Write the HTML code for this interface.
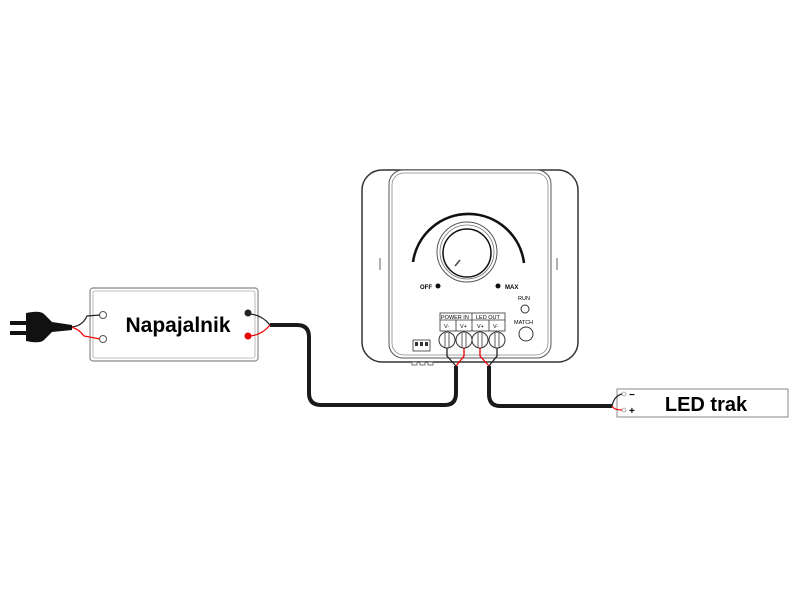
<!DOCTYPE html>
<html><head><meta charset="utf-8"><style>body{margin:0;background:#fff}svg{display:block}</style></head><body>
<svg width="800" height="600" viewBox="0 0 800 600" xmlns="http://www.w3.org/2000/svg" font-family="Liberation Sans, sans-serif">
<rect width="800" height="600" fill="#fff"/>
<rect x="362" y="170" width="216" height="192" rx="20" fill="#fff" stroke="#333" stroke-width="1.5"/>
<rect x="389" y="170" width="162" height="188" rx="14" fill="#fff" stroke="#555" stroke-width="1"/>
<rect x="392" y="173" width="156" height="182" rx="12" fill="none" stroke="#888" stroke-width="0.8"/>
<line x1="380" y1="258" x2="380" y2="270" stroke="#666"/>
<line x1="557" y1="258" x2="557" y2="270" stroke="#666"/>
<path d="M413,262 A56,56 0 0 1 524,263" fill="none" stroke="#111" stroke-width="2.6"/>
<circle cx="467" cy="252" r="30" fill="#fff" stroke="#555" stroke-width="1"/>
<circle cx="467" cy="252" r="27" fill="#fff" stroke="#777" stroke-width="0.8"/>
<circle cx="467" cy="253" r="24" fill="#fff" stroke="#111" stroke-width="1.5"/>
<line x1="455" y1="266" x2="460" y2="260" stroke="#444" stroke-width="1.5"/>
<text x="420" y="289" font-size="6" font-weight="bold">OFF</text>
<circle cx="438" cy="286" r="2.5" fill="#111"/>
<circle cx="498" cy="286" r="2.5" fill="#111"/>
<text x="505" y="289" font-size="6" font-weight="bold">MAX</text>
<text x="518" y="300" font-size="5.5">RUN</text>
<circle cx="525" cy="309" r="4" fill="#fff" stroke="#333"/>
<text x="514" y="324" font-size="5.5">MATCH</text>
<circle cx="526" cy="334" r="7" fill="#fff" stroke="#333"/>
<rect x="440" y="313" width="65" height="18" fill="#fff" stroke="#333" stroke-width="0.8"/>
<line x1="440" y1="320" x2="505" y2="320" stroke="#333" stroke-width="0.8"/>
<line x1="472" y1="313" x2="472" y2="331" stroke="#333" stroke-width="0.8"/>
<line x1="456" y1="320" x2="456" y2="331" stroke="#333" stroke-width="0.8"/>
<line x1="489" y1="320" x2="489" y2="331" stroke="#333" stroke-width="0.8"/>
<text x="441" y="319" font-size="5.5">POWER IN</text>
<text x="476" y="319" font-size="5.5">LED OUT</text>
<text x="444" y="328" font-size="5.5">V-</text><text x="460" y="328" font-size="5.5">V+</text>
<text x="477" y="328" font-size="5.5">V+</text><text x="493" y="328" font-size="5.5">V-</text>
<g fill="#fff" stroke="#333" stroke-width="1">
<circle cx="447" cy="340" r="8"/><circle cx="464" cy="340" r="8"/><circle cx="480" cy="340" r="8"/><circle cx="497" cy="340" r="8"/>
</g>
<g stroke="#333" stroke-width="0.8"><line x1="445" y1="333" x2="445" y2="347"/><line x1="449" y1="333" x2="449" y2="347"/><line x1="462" y1="333" x2="462" y2="347"/><line x1="466" y1="333" x2="466" y2="347"/><line x1="478" y1="333" x2="478" y2="347"/><line x1="482" y1="333" x2="482" y2="347"/><line x1="495" y1="333" x2="495" y2="347"/><line x1="499" y1="333" x2="499" y2="347"/></g>
<rect x="413" y="340" width="17" height="11" fill="#fff" stroke="#333" stroke-width="0.8"/>
<rect x="415" y="342" width="3" height="4" fill="#333"/><rect x="420" y="342" width="3" height="4" fill="#333"/><rect x="425" y="342" width="3" height="4" fill="#333"/>
<g fill="#fff" stroke="#555" stroke-width="0.8"><rect x="412" y="362" width="5" height="3"/><rect x="420" y="362" width="5" height="3"/><rect x="428" y="362" width="5" height="3"/></g>
<path d="M447,348 L447,356 L456,366" fill="none" stroke="#222" stroke-width="1.3"/>
<path d="M464,348 L464,356 L456,366" fill="none" stroke="#e00" stroke-width="1.3"/>
<path d="M480,348 L480,356 L489,366" fill="none" stroke="#e00" stroke-width="1.3"/>
<path d="M497,348 L497,356 L489,366" fill="none" stroke="#222" stroke-width="1.3"/>
<path d="M456,366 L456,393 Q456,405 445,405 L321,405 Q309,405 309,393 L309,337 Q309,325 297,325 L270,325" fill="none" stroke="#1a1a1a" stroke-width="4"/>
<path d="M489,366 L489,394 Q489,406 500,406 L612,406" fill="none" stroke="#1a1a1a" stroke-width="4"/>
<rect x="90" y="288" width="168" height="73" rx="3" fill="#fff" stroke="#888" stroke-width="1.2"/>
<rect x="93" y="291" width="162" height="67" rx="2" fill="none" stroke="#aaa" stroke-width="0.8"/>
<text x="178" y="332" font-size="21" font-weight="bold" text-anchor="middle">Napajalnik</text>
<circle cx="103" cy="315" r="3.5" fill="#fff" stroke="#555"/><circle cx="103" cy="339" r="3.5" fill="#fff" stroke="#555"/>
<circle cx="248" cy="313" r="3.5" fill="#222"/><circle cx="248" cy="336" r="3.5" fill="#e00"/>
<path d="M250,314 Q262,315 270,325" fill="none" stroke="#222" stroke-width="1.2"/>
<path d="M250,336 Q262,335 270,325" fill="none" stroke="#e00" stroke-width="1.2"/>
<path d="M70,327 Q82,327 87,316 L100,315" fill="none" stroke="#222" stroke-width="1.2"/>
<path d="M70,327 Q78,328 84,336 L100,339" fill="none" stroke="#e00" stroke-width="1.2"/>
<rect x="10" y="321" width="18" height="4" fill="#111"/><rect x="10" y="331" width="18" height="4" fill="#111"/>
<path d="M26,313 Q40,310 44,314 L52,322 L72,325 L72,330 L52,332 L44,340 Q40,344 26,341 Z" fill="#111"/>
<rect x="617" y="389" width="171" height="28" fill="#fff" stroke="#888" stroke-width="1"/>
<text x="706" y="411" font-size="20" font-weight="bold" text-anchor="middle">LED trak</text>
<circle cx="624" cy="394" r="2" fill="#fff" stroke="#777" stroke-width="0.6"/>
<circle cx="624" cy="410" r="2" fill="#fff" stroke="#777" stroke-width="0.6"/>
<text x="629" y="398" font-size="10" font-weight="bold">−</text>
<text x="629" y="414" font-size="10" font-weight="bold">+</text>
<path d="M612,406 Q614,396 622,394" fill="none" stroke="#222" stroke-width="1.2"/>
<path d="M612,406 Q614,410 622,410" fill="none" stroke="#e00" stroke-width="1.2"/>
</svg>
</body></html>
